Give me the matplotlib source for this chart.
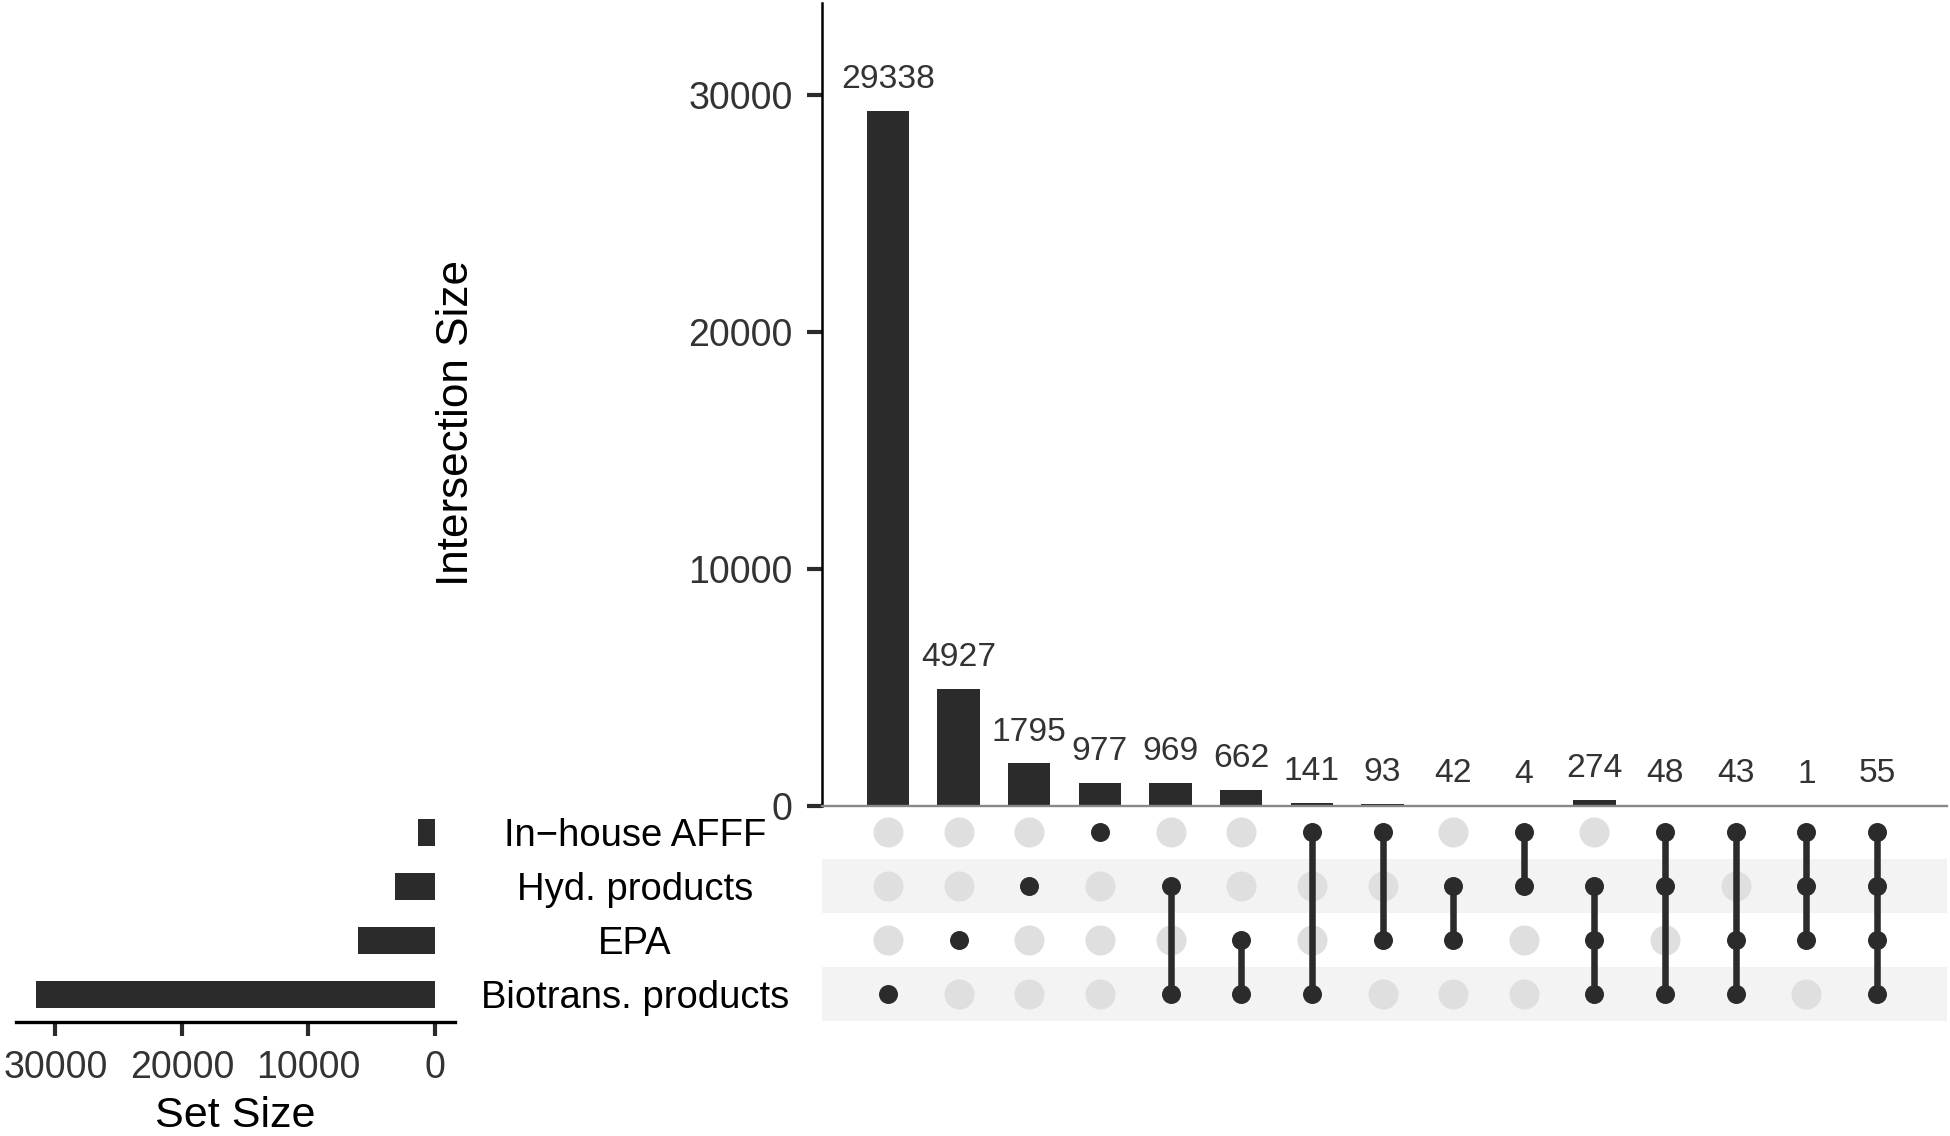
import matplotlib
matplotlib.use("Agg")
import matplotlib.pyplot as plt
from matplotlib.transforms import blended_transform_factory

plt.rcParams['font.family'] = ['Liberation Sans', 'DejaVu Sans']

# ---------------- data ----------------
set_names = ["In\u2212house AFFF", "Hyd. products", "EPA", "Biotrans. products"]
set_sizes = [1362, 3188, 6097, 31530]
intersection_sizes = [29338, 4927, 1795, 977, 969, 662, 141, 93, 42, 4, 274, 48, 43, 1, 55]
# membership per intersection (indices into set_names)
memberships = [
    [3], [2], [1], [0], [1, 3], [2, 3], [0, 3], [0, 2], [1, 2], [0, 1],
    [1, 2, 3], [0, 1, 3], [0, 2, 3], [0, 1, 2], [0, 1, 2, 3],
]
y_ticks_main = [0, 10000, 20000, 30000]
x_ticks_set = [0, 10000, 20000, 30000]

# ---------------- style ----------------
W, H = 1950, 1136
DARK = "#2b2b2b"
GRAY_DOT = "#dfdfdf"
STRIPE = "#f3f3f3"
TXT = "#333333"

fig = plt.figure(figsize=(W / 100, H / 100), dpi=100)

def fax(l, t, r, b):
    return fig.add_axes([l / W, 1 - b / H, (r - l) / W, (b - t) / H])

n = len(intersection_sizes)
xlim = (-0.934, 14.99)

# ---------- intersection bar chart ----------
ax_bar = fax(822, 3, 1947, 806)
xs = list(range(n))
ax_bar.bar(xs, intersection_sizes, width=0.6, color=DARK)
ax_bar.set_xlim(*xlim)
ax_bar.set_ylim(0, 33880)
for s in ("top", "right"):
    ax_bar.spines[s].set_visible(False)
ax_bar.spines["left"].set_color("black")
ax_bar.spines["left"].set_linewidth(1.8)
ax_bar.spines["bottom"].set_color("#888888")
ax_bar.spines["bottom"].set_linewidth(1.7)
ax_bar.set_xticks([])
ax_bar.set_yticks(y_ticks_main)
ax_bar.set_yticklabels([str(v) for v in y_ticks_main])
ax_bar.tick_params(axis="y", length=11, width=3, pad=10, labelsize=27,
                   labelcolor=TXT, color=DARK)
for x, v in zip(xs, intersection_sizes):
    ax_bar.annotate(str(v), (x, v), xytext=(0, 16.5), textcoords="offset points",
                    ha="center", va="baseline", fontsize=24.2, color=TXT)

fig.text(457 / W, 1 - 423 / H, "Intersection Size", rotation=90,
         ha="center", va="center", fontsize=31.8, color="black")

# ---------- matrix ----------
ax_m = fax(822, 805, 1947, 1021)
ax_m.set_xlim(*xlim)
ax_m.set_ylim(-0.5, 3.5)
nsets = len(set_names)
row_y = [nsets - 1 - i for i in range(nsets)]  # first set at top
for i in (1, 3):
    ax_m.axhspan(row_y[i] - 0.5, row_y[i] + 0.5, color=STRIPE, lw=0, zorder=0)
for x, mem in enumerate(memberships):
    for i in range(nsets):
        if i not in mem:
            ax_m.scatter([x], [row_y[i]], s=467, color=GRAY_DOT, lw=0, zorder=2)
    ys = [row_y[i] for i in mem]
    if len(ys) > 1:
        ax_m.plot([x, x], [min(ys), max(ys)], color=DARK, lw=4.7, zorder=3,
                  solid_capstyle="butt")
    ax_m.scatter([x] * len(ys), ys, s=187, color=DARK, lw=0, zorder=4)
ax_m.axis("off")

# ---------- set size bars ----------
ax_s = fax(16, 805, 455, 1022)
ax_s.barh(row_y, set_sizes, height=0.5, color=DARK)
ax_s.set_ylim(-0.5, 3.5)
ax_s.set_xlim(31530 * 1.05, -31530 * 0.05)
for s in ("top", "right", "left"):
    ax_s.spines[s].set_visible(False)
ax_s.spines["bottom"].set_linewidth(2.4)
ax_s.spines["bottom"].set_color("black")
ax_s.set_yticks([])
ax_s.set_xticks(x_ticks_set)
ax_s.set_xticklabels([str(v) for v in x_ticks_set])
ax_s.tick_params(axis="x", length=10, width=3, pad=10, labelsize=27,
                 labelcolor=TXT, color=DARK)
fig.text(235 / W, 1 - 1116 / H, "Set Size", ha="center", va="center",
         fontsize=31, color="black")

# set names
tr = blended_transform_factory(fig.transFigure, ax_m.transData)
for name, y in zip(set_names, row_y):
    ax_m.text(635 / W, y, name, transform=tr, ha="center", va="center_baseline",
              fontsize=27.5, color="black", clip_on=False)

fig.savefig("out.png", dpi=100)
